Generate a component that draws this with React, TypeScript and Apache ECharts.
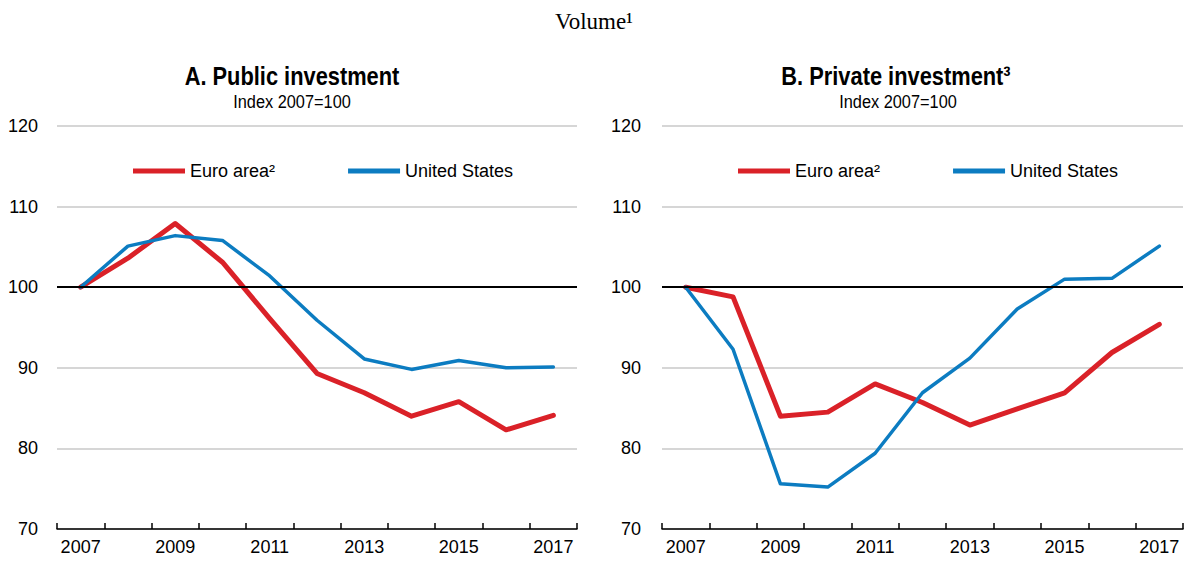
import React, { useEffect, useRef } from "react";
import * as echarts from "echarts";

const years = ["2007", "2008", "2009", "2010", "2011", "2012", "2013", "2014", "2015", "2016", "2017"];
const publicEuro = [100, 103.6, 107.9, 103.1, 96.1, 89.3, 86.9, 84.0, 85.8, 82.3, 84.1];
const publicUS = [100, 105.1, 106.4, 105.8, 101.4, 95.9, 91.1, 89.8, 90.9, 90.0, 90.1];
const privateEuro = [100, 98.8, 84.0, 84.5, 88.0, 85.7, 82.9, 84.9, 86.9, 91.9, 95.4];
const privateUS = [100, 92.3, 75.6, 75.2, 79.4, 86.9, 91.2, 97.3, 101.0, 101.1, 105.1];
const yTicks = { min: 70, max: 120, interval: 10 };

const RED = "#DA2128";
const BLUE = "#0C7CC1";
const FONT = "'Liberation Sans', Arial, sans-serif";

export default function App() {
  const ref = useRef<HTMLDivElement>(null);
  useEffect(() => {
    if (!ref.current) return;
    const chart = echarts.init(ref.current, null, { renderer: "svg" });
    const grids = [
      { left: 57, right: 611, top: 126, bottom: 34 },
      { left: 662, right: 5, top: 126, bottom: 34 },
    ];
    const xAxis = grids.map((_, i) => ({
      type: "category",
      gridIndex: i,
      data: years,
      boundaryGap: true,
      axisLine: { lineStyle: { color: "#000", width: 1.5 } },
      axisTick: { show: true, inside: true, length: 6, interval: 0, lineStyle: { color: "#000", width: 1.5 } },
      axisLabel: { interval: 1, fontSize: 18, color: "#000", fontFamily: FONT, margin: 9 },
    }));
    const yAxis = grids.map((_, i) => ({
      type: "value",
      gridIndex: i,
      min: yTicks.min,
      max: yTicks.max,
      interval: yTicks.interval,
      axisLine: { show: false },
      axisTick: { show: false },
      axisLabel: { fontSize: 18, color: "#000", fontFamily: FONT, margin: i === 0 ? 19 : 21 },
      splitLine: { lineStyle: { color: "#c8c8c8", width: 1.5 } },
    }));
    const mk = (i: number) => ({
      type: "line",
      xAxisIndex: i,
      yAxisIndex: i,
      data: [],
      silent: true,
      z: 1,
      markLine: {
        symbol: "none",
        silent: true,
        label: { show: false },
        lineStyle: { color: "#000", width: 2, type: "solid" },
        data: [{ yAxis: 100 }],
      },
    });
    const line = (name: string, data: number[], i: number, color: string, width: number) => ({
      type: "line",
      name,
      xAxisIndex: i,
      yAxisIndex: i,
      data,
      symbol: "none",
      z: 3,
      lineStyle: { color, width, cap: "round", join: "round" },
      itemStyle: { color },
    });
    const legend = (left: number) => ({
      left,
      top: 162,
      padding: 0,
      icon: "rect",
      itemWidth: 52,
      itemHeight: 5,
      itemGap: 73,
      selectedMode: false,
      textStyle: { fontSize: 18, color: "#000", fontFamily: FONT },
      data: ["Euro area²", "United States"],
    });
    const txt = (x: number, y: number, text: string, size: number, bold: boolean, family: string, sx: number) => ({
      type: "text",
      x,
      y,
      scaleX: sx,
      style: { text, fontSize: size, fontWeight: bold ? "bold" : "normal", fontFamily: family, fill: "#000", textAlign: "center", textVerticalAlign: "middle" },
    });
    chart.setOption({
      animation: false,
      backgroundColor: "#fff",
      grid: grids,
      xAxis,
      yAxis,
      legend: [legend(133), legend(738)],
      graphic: [
        txt(594, 21, "Volume¹", 23, false, "'Liberation Serif', 'Times New Roman', serif", 1),
        txt(292, 76, "A. Public investment", 26, true, FONT, 0.84),
        txt(292, 102, "Index 2007=100", 19, false, FONT, 0.86),
        txt(896, 76, "B. Private investment³", 26, true, FONT, 0.84),
        txt(898, 102, "Index 2007=100", 19, false, FONT, 0.86),
      ],
      series: [
        mk(0),
        mk(1),
        line("Euro area²", publicEuro, 0, RED, 5),
        line("United States", publicUS, 0, BLUE, 3.5),
        line("Euro area²", privateEuro, 1, RED, 5),
        line("United States", privateUS, 1, BLUE, 3.5),
      ],
    });
    return () => chart.dispose();
  }, []);
  return <div ref={ref} style={{ position: "absolute", left: 0, top: 0, width: 1188, height: 563 }} />;
}
